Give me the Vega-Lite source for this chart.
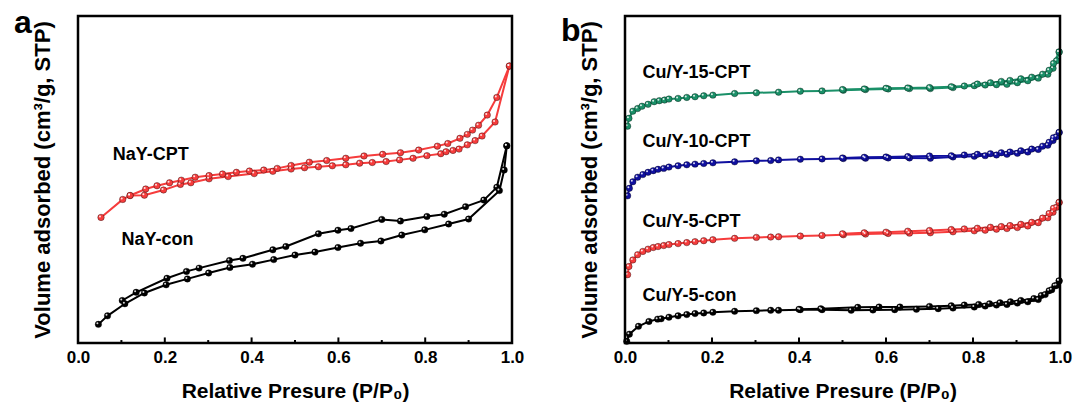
{
  "$schema": "https://vega.github.io/schema/vega-lite/v6.json",
  "padding": {"left": 13, "top": 7, "right": 5, "bottom": 5},
  "bounds": "flush",
  "spacing": 113,
  "config": {
    "font": "Liberation Sans",
    "view": {"stroke": null},
    "axis": {"labelColor": "black", "titleColor": "black", "labelFontWeight": "bold", "titleFontWeight": "bold", "domain": false, "ticks": false, "grid": false}
  },
  "datasets": {
    "frame": [{"fx":0,"fy":0,"o":0},{"fx":1,"fy":0,"o":1},{"fx":1,"fy":100,"o":2},{"fx":0,"fy":100,"o":3},{"fx":0,"fy":0,"o":4}],
    "tickseg": [
      {"t":0.0,"ty":0},{"t":0.0,"ty":1.7},{"t":0.1,"ty":0},{"t":0.1,"ty":0.9},{"t":0.2,"ty":0},{"t":0.2,"ty":1.7},{"t":0.3,"ty":0},{"t":0.3,"ty":0.9},{"t":0.4,"ty":0},{"t":0.4,"ty":1.7},{"t":0.5,"ty":0},{"t":0.5,"ty":0.9},{"t":0.6,"ty":0},{"t":0.6,"ty":1.7},{"t":0.7,"ty":0},{"t":0.7,"ty":0.9},{"t":0.8,"ty":0},{"t":0.8,"ty":1.7},{"t":0.9,"ty":0},{"t":0.9,"ty":0.9},{"t":1.0,"ty":0},{"t":1.0,"ty":1.7}
    ],
    "a": [
      {"s":"NaY-CPT","b":"ads","x":0.053,"y":38.4},{"s":"NaY-CPT","b":"ads","x":0.103,"y":43.9},{"s":"NaY-CPT","b":"ads","x":0.120,"y":45.1},{"s":"NaY-CPT","b":"ads","x":0.153,"y":45.2},{"s":"NaY-CPT","b":"ads","x":0.197,"y":46.8},{"s":"NaY-CPT","b":"ads","x":0.236,"y":48.5},{"s":"NaY-CPT","b":"ads","x":0.260,"y":49.0},{"s":"NaY-CPT","b":"ads","x":0.302,"y":50.2},{"s":"NaY-CPT","b":"ads","x":0.346,"y":50.9},{"s":"NaY-CPT","b":"ads","x":0.406,"y":51.8},{"s":"NaY-CPT","b":"ads","x":0.449,"y":52.5},{"s":"NaY-CPT","b":"ads","x":0.491,"y":53.2},{"s":"NaY-CPT","b":"ads","x":0.522,"y":53.6},{"s":"NaY-CPT","b":"ads","x":0.554,"y":53.9},{"s":"NaY-CPT","b":"ads","x":0.586,"y":54.2},{"s":"NaY-CPT","b":"ads","x":0.617,"y":54.5},{"s":"NaY-CPT","b":"ads","x":0.649,"y":55.0},{"s":"NaY-CPT","b":"ads","x":0.678,"y":55.2},{"s":"NaY-CPT","b":"ads","x":0.710,"y":55.5},{"s":"NaY-CPT","b":"ads","x":0.741,"y":56.0},{"s":"NaY-CPT","b":"ads","x":0.772,"y":56.5},{"s":"NaY-CPT","b":"ads","x":0.804,"y":57.3},{"s":"NaY-CPT","b":"ads","x":0.836,"y":57.9},{"s":"NaY-CPT","b":"ads","x":0.848,"y":58.5},{"s":"NaY-CPT","b":"ads","x":0.864,"y":58.9},{"s":"NaY-CPT","b":"ads","x":0.878,"y":59.3},{"s":"NaY-CPT","b":"ads","x":0.897,"y":60.6},{"s":"NaY-CPT","b":"ads","x":0.915,"y":61.9},{"s":"NaY-CPT","b":"ads","x":0.931,"y":63.3},{"s":"NaY-CPT","b":"ads","x":0.961,"y":67.6},{"s":"NaY-CPT","b":"ads","x":0.994,"y":84.7},
      {"s":"NaY-CPT","b":"des","x":0.994,"y":84.7},{"s":"NaY-CPT","b":"des","x":0.965,"y":75.1},{"s":"NaY-CPT","b":"des","x":0.943,"y":69.7},{"s":"NaY-CPT","b":"des","x":0.923,"y":66.6},{"s":"NaY-CPT","b":"des","x":0.909,"y":65.1},{"s":"NaY-CPT","b":"des","x":0.897,"y":63.8},{"s":"NaY-CPT","b":"des","x":0.880,"y":62.6},{"s":"NaY-CPT","b":"des","x":0.852,"y":61.0},{"s":"NaY-CPT","b":"des","x":0.828,"y":60.2},{"s":"NaY-CPT","b":"des","x":0.785,"y":59.0},{"s":"NaY-CPT","b":"des","x":0.743,"y":58.2},{"s":"NaY-CPT","b":"des","x":0.702,"y":57.7},{"s":"NaY-CPT","b":"des","x":0.659,"y":57.2},{"s":"NaY-CPT","b":"des","x":0.617,"y":56.5},{"s":"NaY-CPT","b":"des","x":0.573,"y":55.8},{"s":"NaY-CPT","b":"des","x":0.533,"y":55.3},{"s":"NaY-CPT","b":"des","x":0.491,"y":54.3},{"s":"NaY-CPT","b":"des","x":0.459,"y":53.4},{"s":"NaY-CPT","b":"des","x":0.428,"y":52.9},{"s":"NaY-CPT","b":"des","x":0.395,"y":52.6},{"s":"NaY-CPT","b":"des","x":0.365,"y":52.2},{"s":"NaY-CPT","b":"des","x":0.333,"y":51.7},{"s":"NaY-CPT","b":"des","x":0.302,"y":51.2},{"s":"NaY-CPT","b":"des","x":0.270,"y":50.7},{"s":"NaY-CPT","b":"des","x":0.238,"y":49.8},{"s":"NaY-CPT","b":"des","x":0.211,"y":49.0},{"s":"NaY-CPT","b":"des","x":0.182,"y":48.1},{"s":"NaY-CPT","b":"des","x":0.156,"y":47.1},{"s":"NaY-CPT","b":"des","x":0.120,"y":45.1},
      {"s":"NaY-con","b":"ads","x":0.047,"y":5.7},{"s":"NaY-con","b":"ads","x":0.068,"y":8.3},{"s":"NaY-con","b":"ads","x":0.108,"y":12.0},{"s":"NaY-con","b":"ads","x":0.153,"y":15.3},{"s":"NaY-con","b":"ads","x":0.203,"y":17.8},{"s":"NaY-con","b":"ads","x":0.252,"y":19.6},{"s":"NaY-con","b":"ads","x":0.301,"y":21.4},{"s":"NaY-con","b":"ads","x":0.350,"y":23.1},{"s":"NaY-con","b":"ads","x":0.402,"y":24.1},{"s":"NaY-con","b":"ads","x":0.451,"y":25.5},{"s":"NaY-con","b":"ads","x":0.500,"y":26.9},{"s":"NaY-con","b":"ads","x":0.546,"y":27.8},{"s":"NaY-con","b":"ads","x":0.599,"y":29.2},{"s":"NaY-con","b":"ads","x":0.651,"y":30.5},{"s":"NaY-con","b":"ads","x":0.698,"y":31.2},{"s":"NaY-con","b":"ads","x":0.746,"y":33.0},{"s":"NaY-con","b":"ads","x":0.799,"y":34.6},{"s":"NaY-con","b":"ads","x":0.854,"y":36.4},{"s":"NaY-con","b":"ads","x":0.900,"y":37.9},{"s":"NaY-con","b":"ads","x":0.971,"y":46.6},{"s":"NaY-con","b":"ads","x":0.982,"y":52.9},{"s":"NaY-con","b":"ads","x":0.988,"y":60.3},
      {"s":"NaY-con","b":"des","x":0.988,"y":60.3},{"s":"NaY-con","b":"des","x":0.965,"y":47.6},{"s":"NaY-con","b":"des","x":0.935,"y":43.7},{"s":"NaY-con","b":"des","x":0.893,"y":41.7},{"s":"NaY-con","b":"des","x":0.844,"y":39.4},{"s":"NaY-con","b":"des","x":0.804,"y":38.7},{"s":"NaY-con","b":"des","x":0.743,"y":37.3},{"s":"NaY-con","b":"des","x":0.700,"y":37.8},{"s":"NaY-con","b":"des","x":0.629,"y":35.0},{"s":"NaY-con","b":"des","x":0.599,"y":34.5},{"s":"NaY-con","b":"des","x":0.554,"y":33.4},{"s":"NaY-con","b":"des","x":0.479,"y":29.5},{"s":"NaY-con","b":"des","x":0.449,"y":28.5},{"s":"NaY-con","b":"des","x":0.380,"y":25.9},{"s":"NaY-con","b":"des","x":0.349,"y":25.2},{"s":"NaY-con","b":"des","x":0.279,"y":22.9},{"s":"NaY-con","b":"des","x":0.250,"y":21.9},{"s":"NaY-con","b":"des","x":0.205,"y":19.8},{"s":"NaY-con","b":"des","x":0.134,"y":15.5},{"s":"NaY-con","b":"des","x":0.102,"y":13.0}
    ],
    "b": [
      {"s":"Cu/Y-15-CPT","b":"ads","x":0.006,"y":66.3},{"s":"Cu/Y-15-CPT","b":"ads","x":0.009,"y":68.7},{"s":"Cu/Y-15-CPT","b":"ads","x":0.018,"y":70.9},{"s":"Cu/Y-15-CPT","b":"ads","x":0.029,"y":71.7},{"s":"Cu/Y-15-CPT","b":"ads","x":0.039,"y":72.4},{"s":"Cu/Y-15-CPT","b":"ads","x":0.053,"y":73.0},{"s":"Cu/Y-15-CPT","b":"ads","x":0.067,"y":73.8},{"s":"Cu/Y-15-CPT","b":"ads","x":0.079,"y":74.1},{"s":"Cu/Y-15-CPT","b":"ads","x":0.091,"y":74.3},{"s":"Cu/Y-15-CPT","b":"ads","x":0.101,"y":74.6},{"s":"Cu/Y-15-CPT","b":"ads","x":0.122,"y":74.8},{"s":"Cu/Y-15-CPT","b":"ads","x":0.142,"y":75.1},{"s":"Cu/Y-15-CPT","b":"ads","x":0.161,"y":75.3},{"s":"Cu/Y-15-CPT","b":"ads","x":0.181,"y":75.6},{"s":"Cu/Y-15-CPT","b":"ads","x":0.202,"y":75.8},{"s":"Cu/Y-15-CPT","b":"ads","x":0.252,"y":76.3},{"s":"Cu/Y-15-CPT","b":"ads","x":0.302,"y":76.5},{"s":"Cu/Y-15-CPT","b":"ads","x":0.353,"y":76.7},{"s":"Cu/Y-15-CPT","b":"ads","x":0.403,"y":77.0},{"s":"Cu/Y-15-CPT","b":"ads","x":0.453,"y":77.1},{"s":"Cu/Y-15-CPT","b":"ads","x":0.502,"y":77.3},{"s":"Cu/Y-15-CPT","b":"ads","x":0.553,"y":77.5},{"s":"Cu/Y-15-CPT","b":"ads","x":0.605,"y":77.7},{"s":"Cu/Y-15-CPT","b":"ads","x":0.654,"y":77.8},{"s":"Cu/Y-15-CPT","b":"ads","x":0.702,"y":77.8},{"s":"Cu/Y-15-CPT","b":"ads","x":0.754,"y":78.1},{"s":"Cu/Y-15-CPT","b":"ads","x":0.803,"y":78.7},{"s":"Cu/Y-15-CPT","b":"ads","x":0.828,"y":78.9},{"s":"Cu/Y-15-CPT","b":"ads","x":0.854,"y":79.0},{"s":"Cu/Y-15-CPT","b":"ads","x":0.878,"y":79.1},{"s":"Cu/Y-15-CPT","b":"ads","x":0.902,"y":79.6},{"s":"Cu/Y-15-CPT","b":"ads","x":0.926,"y":80.2},{"s":"Cu/Y-15-CPT","b":"ads","x":0.950,"y":81.0},{"s":"Cu/Y-15-CPT","b":"ads","x":0.972,"y":82.2},{"s":"Cu/Y-15-CPT","b":"ads","x":0.984,"y":84.0},{"s":"Cu/Y-15-CPT","b":"ads","x":0.992,"y":86.3},{"s":"Cu/Y-15-CPT","b":"ads","x":0.998,"y":89.0},
      {"s":"Cu/Y-15-CPT","b":"des","x":0.998,"y":89.0},{"s":"Cu/Y-15-CPT","b":"des","x":0.985,"y":85.5},{"s":"Cu/Y-15-CPT","b":"des","x":0.975,"y":83.4},{"s":"Cu/Y-15-CPT","b":"des","x":0.960,"y":82.2},{"s":"Cu/Y-15-CPT","b":"des","x":0.935,"y":81.3},{"s":"Cu/Y-15-CPT","b":"des","x":0.910,"y":80.8},{"s":"Cu/Y-15-CPT","b":"des","x":0.885,"y":80.3},{"s":"Cu/Y-15-CPT","b":"des","x":0.865,"y":80.0},{"s":"Cu/Y-15-CPT","b":"des","x":0.840,"y":79.6},{"s":"Cu/Y-15-CPT","b":"des","x":0.810,"y":79.2},{"s":"Cu/Y-15-CPT","b":"des","x":0.780,"y":78.6},{"s":"Cu/Y-15-CPT","b":"des","x":0.750,"y":78.4},{"s":"Cu/Y-15-CPT","b":"des","x":0.700,"y":78.1},{"s":"Cu/Y-15-CPT","b":"des","x":0.650,"y":78.0},{"s":"Cu/Y-15-CPT","b":"des","x":0.600,"y":77.9},{"s":"Cu/Y-15-CPT","b":"des","x":0.550,"y":77.7},{"s":"Cu/Y-15-CPT","b":"des","x":0.500,"y":77.5},
      {"s":"Cu/Y-10-CPT","b":"ads","x":0.006,"y":45.0},{"s":"Cu/Y-10-CPT","b":"ads","x":0.010,"y":47.3},{"s":"Cu/Y-10-CPT","b":"ads","x":0.018,"y":49.3},{"s":"Cu/Y-10-CPT","b":"ads","x":0.029,"y":50.7},{"s":"Cu/Y-10-CPT","b":"ads","x":0.041,"y":51.5},{"s":"Cu/Y-10-CPT","b":"ads","x":0.053,"y":52.2},{"s":"Cu/Y-10-CPT","b":"ads","x":0.065,"y":52.7},{"s":"Cu/Y-10-CPT","b":"ads","x":0.076,"y":53.1},{"s":"Cu/Y-10-CPT","b":"ads","x":0.089,"y":53.4},{"s":"Cu/Y-10-CPT","b":"ads","x":0.101,"y":53.8},{"s":"Cu/Y-10-CPT","b":"ads","x":0.122,"y":54.2},{"s":"Cu/Y-10-CPT","b":"ads","x":0.142,"y":54.5},{"s":"Cu/Y-10-CPT","b":"ads","x":0.161,"y":54.7},{"s":"Cu/Y-10-CPT","b":"ads","x":0.181,"y":54.9},{"s":"Cu/Y-10-CPT","b":"ads","x":0.202,"y":55.1},{"s":"Cu/Y-10-CPT","b":"ads","x":0.252,"y":55.4},{"s":"Cu/Y-10-CPT","b":"ads","x":0.302,"y":55.7},{"s":"Cu/Y-10-CPT","b":"ads","x":0.335,"y":55.8},{"s":"Cu/Y-10-CPT","b":"ads","x":0.353,"y":56.0},{"s":"Cu/Y-10-CPT","b":"ads","x":0.403,"y":56.2},{"s":"Cu/Y-10-CPT","b":"ads","x":0.453,"y":56.3},{"s":"Cu/Y-10-CPT","b":"ads","x":0.502,"y":56.4},{"s":"Cu/Y-10-CPT","b":"ads","x":0.553,"y":56.5},{"s":"Cu/Y-10-CPT","b":"ads","x":0.605,"y":56.6},{"s":"Cu/Y-10-CPT","b":"ads","x":0.654,"y":56.6},{"s":"Cu/Y-10-CPT","b":"ads","x":0.702,"y":56.5},{"s":"Cu/Y-10-CPT","b":"ads","x":0.754,"y":56.9},{"s":"Cu/Y-10-CPT","b":"ads","x":0.803,"y":57.1},{"s":"Cu/Y-10-CPT","b":"ads","x":0.828,"y":57.3},{"s":"Cu/Y-10-CPT","b":"ads","x":0.854,"y":57.5},{"s":"Cu/Y-10-CPT","b":"ads","x":0.878,"y":57.7},{"s":"Cu/Y-10-CPT","b":"ads","x":0.902,"y":58.0},{"s":"Cu/Y-10-CPT","b":"ads","x":0.926,"y":58.4},{"s":"Cu/Y-10-CPT","b":"ads","x":0.950,"y":59.2},{"s":"Cu/Y-10-CPT","b":"ads","x":0.972,"y":60.5},{"s":"Cu/Y-10-CPT","b":"ads","x":0.984,"y":61.9},{"s":"Cu/Y-10-CPT","b":"ads","x":0.992,"y":63.1},{"s":"Cu/Y-10-CPT","b":"ads","x":0.998,"y":64.4},
      {"s":"Cu/Y-10-CPT","b":"des","x":0.998,"y":64.4},{"s":"Cu/Y-10-CPT","b":"des","x":0.985,"y":62.8},{"s":"Cu/Y-10-CPT","b":"des","x":0.975,"y":61.4},{"s":"Cu/Y-10-CPT","b":"des","x":0.960,"y":60.2},{"s":"Cu/Y-10-CPT","b":"des","x":0.935,"y":59.3},{"s":"Cu/Y-10-CPT","b":"des","x":0.910,"y":58.8},{"s":"Cu/Y-10-CPT","b":"des","x":0.885,"y":58.4},{"s":"Cu/Y-10-CPT","b":"des","x":0.865,"y":58.2},{"s":"Cu/Y-10-CPT","b":"des","x":0.840,"y":57.9},{"s":"Cu/Y-10-CPT","b":"des","x":0.810,"y":57.7},{"s":"Cu/Y-10-CPT","b":"des","x":0.780,"y":57.5},{"s":"Cu/Y-10-CPT","b":"des","x":0.750,"y":57.3},{"s":"Cu/Y-10-CPT","b":"des","x":0.700,"y":57.2},{"s":"Cu/Y-10-CPT","b":"des","x":0.650,"y":57.0},{"s":"Cu/Y-10-CPT","b":"des","x":0.600,"y":56.9},{"s":"Cu/Y-10-CPT","b":"des","x":0.550,"y":56.8},{"s":"Cu/Y-10-CPT","b":"des","x":0.500,"y":56.6},
      {"s":"Cu/Y-5-CPT","b":"ads","x":0.006,"y":20.9},{"s":"Cu/Y-5-CPT","b":"ads","x":0.009,"y":23.4},{"s":"Cu/Y-5-CPT","b":"ads","x":0.018,"y":25.4},{"s":"Cu/Y-5-CPT","b":"ads","x":0.029,"y":27.0},{"s":"Cu/Y-5-CPT","b":"ads","x":0.041,"y":28.0},{"s":"Cu/Y-5-CPT","b":"ads","x":0.053,"y":28.7},{"s":"Cu/Y-5-CPT","b":"ads","x":0.065,"y":29.2},{"s":"Cu/Y-5-CPT","b":"ads","x":0.076,"y":29.5},{"s":"Cu/Y-5-CPT","b":"ads","x":0.089,"y":29.8},{"s":"Cu/Y-5-CPT","b":"ads","x":0.101,"y":30.1},{"s":"Cu/Y-5-CPT","b":"ads","x":0.122,"y":30.4},{"s":"Cu/Y-5-CPT","b":"ads","x":0.142,"y":30.7},{"s":"Cu/Y-5-CPT","b":"ads","x":0.161,"y":31.0},{"s":"Cu/Y-5-CPT","b":"ads","x":0.181,"y":31.3},{"s":"Cu/Y-5-CPT","b":"ads","x":0.202,"y":31.6},{"s":"Cu/Y-5-CPT","b":"ads","x":0.252,"y":32.0},{"s":"Cu/Y-5-CPT","b":"ads","x":0.302,"y":32.3},{"s":"Cu/Y-5-CPT","b":"ads","x":0.335,"y":32.4},{"s":"Cu/Y-5-CPT","b":"ads","x":0.353,"y":32.5},{"s":"Cu/Y-5-CPT","b":"ads","x":0.403,"y":32.7},{"s":"Cu/Y-5-CPT","b":"ads","x":0.453,"y":32.9},{"s":"Cu/Y-5-CPT","b":"ads","x":0.502,"y":33.1},{"s":"Cu/Y-5-CPT","b":"ads","x":0.553,"y":33.3},{"s":"Cu/Y-5-CPT","b":"ads","x":0.605,"y":33.5},{"s":"Cu/Y-5-CPT","b":"ads","x":0.654,"y":33.6},{"s":"Cu/Y-5-CPT","b":"ads","x":0.702,"y":33.7},{"s":"Cu/Y-5-CPT","b":"ads","x":0.754,"y":34.0},{"s":"Cu/Y-5-CPT","b":"ads","x":0.803,"y":34.3},{"s":"Cu/Y-5-CPT","b":"ads","x":0.828,"y":34.5},{"s":"Cu/Y-5-CPT","b":"ads","x":0.854,"y":34.8},{"s":"Cu/Y-5-CPT","b":"ads","x":0.878,"y":35.0},{"s":"Cu/Y-5-CPT","b":"ads","x":0.902,"y":35.3},{"s":"Cu/Y-5-CPT","b":"ads","x":0.926,"y":35.8},{"s":"Cu/Y-5-CPT","b":"ads","x":0.950,"y":36.8},{"s":"Cu/Y-5-CPT","b":"ads","x":0.972,"y":38.3},{"s":"Cu/Y-5-CPT","b":"ads","x":0.984,"y":40.0},{"s":"Cu/Y-5-CPT","b":"ads","x":0.992,"y":41.5},{"s":"Cu/Y-5-CPT","b":"ads","x":0.998,"y":43.0},
      {"s":"Cu/Y-5-CPT","b":"des","x":0.998,"y":43.0},{"s":"Cu/Y-5-CPT","b":"des","x":0.985,"y":41.2},{"s":"Cu/Y-5-CPT","b":"des","x":0.975,"y":39.6},{"s":"Cu/Y-5-CPT","b":"des","x":0.960,"y":38.2},{"s":"Cu/Y-5-CPT","b":"des","x":0.935,"y":36.9},{"s":"Cu/Y-5-CPT","b":"des","x":0.910,"y":36.3},{"s":"Cu/Y-5-CPT","b":"des","x":0.885,"y":35.9},{"s":"Cu/Y-5-CPT","b":"des","x":0.865,"y":35.6},{"s":"Cu/Y-5-CPT","b":"des","x":0.840,"y":35.4},{"s":"Cu/Y-5-CPT","b":"des","x":0.810,"y":35.1},{"s":"Cu/Y-5-CPT","b":"des","x":0.780,"y":34.9},{"s":"Cu/Y-5-CPT","b":"des","x":0.750,"y":34.7},{"s":"Cu/Y-5-CPT","b":"des","x":0.700,"y":34.4},{"s":"Cu/Y-5-CPT","b":"des","x":0.650,"y":34.2},{"s":"Cu/Y-5-CPT","b":"des","x":0.600,"y":33.9},{"s":"Cu/Y-5-CPT","b":"des","x":0.550,"y":33.7},{"s":"Cu/Y-5-CPT","b":"des","x":0.500,"y":33.4},
      {"s":"Cu/Y-5-con","b":"ads","x":0.004,"y":0.5},{"s":"Cu/Y-5-con","b":"ads","x":0.010,"y":2.7},{"s":"Cu/Y-5-con","b":"ads","x":0.031,"y":5.1},{"s":"Cu/Y-5-con","b":"ads","x":0.055,"y":6.6},{"s":"Cu/Y-5-con","b":"ads","x":0.075,"y":7.3},{"s":"Cu/Y-5-con","b":"ads","x":0.083,"y":7.4},{"s":"Cu/Y-5-con","b":"ads","x":0.101,"y":7.9},{"s":"Cu/Y-5-con","b":"ads","x":0.122,"y":8.3},{"s":"Cu/Y-5-con","b":"ads","x":0.142,"y":8.7},{"s":"Cu/Y-5-con","b":"ads","x":0.161,"y":9.0},{"s":"Cu/Y-5-con","b":"ads","x":0.181,"y":9.2},{"s":"Cu/Y-5-con","b":"ads","x":0.202,"y":9.4},{"s":"Cu/Y-5-con","b":"ads","x":0.252,"y":9.7},{"s":"Cu/Y-5-con","b":"ads","x":0.302,"y":9.9},{"s":"Cu/Y-5-con","b":"ads","x":0.335,"y":10.0},{"s":"Cu/Y-5-con","b":"ads","x":0.353,"y":10.0},{"s":"Cu/Y-5-con","b":"ads","x":0.403,"y":10.2},{"s":"Cu/Y-5-con","b":"ads","x":0.453,"y":10.2},{"s":"Cu/Y-5-con","b":"ads","x":0.520,"y":10.0},{"s":"Cu/Y-5-con","b":"ads","x":0.570,"y":10.1},{"s":"Cu/Y-5-con","b":"ads","x":0.620,"y":10.2},{"s":"Cu/Y-5-con","b":"ads","x":0.670,"y":10.3},{"s":"Cu/Y-5-con","b":"ads","x":0.720,"y":10.5},{"s":"Cu/Y-5-con","b":"ads","x":0.754,"y":10.7},{"s":"Cu/Y-5-con","b":"ads","x":0.803,"y":11.0},{"s":"Cu/Y-5-con","b":"ads","x":0.828,"y":11.3},{"s":"Cu/Y-5-con","b":"ads","x":0.854,"y":11.6},{"s":"Cu/Y-5-con","b":"ads","x":0.878,"y":11.8},{"s":"Cu/Y-5-con","b":"ads","x":0.902,"y":12.2},{"s":"Cu/Y-5-con","b":"ads","x":0.926,"y":12.6},{"s":"Cu/Y-5-con","b":"ads","x":0.950,"y":13.3},{"s":"Cu/Y-5-con","b":"ads","x":0.966,"y":14.8},{"s":"Cu/Y-5-con","b":"ads","x":0.981,"y":16.3},{"s":"Cu/Y-5-con","b":"ads","x":0.992,"y":17.6},{"s":"Cu/Y-5-con","b":"ads","x":0.998,"y":19.0},
      {"s":"Cu/Y-5-con","b":"des","x":0.998,"y":19.0},{"s":"Cu/Y-5-con","b":"des","x":0.988,"y":17.5},{"s":"Cu/Y-5-con","b":"des","x":0.975,"y":16.0},{"s":"Cu/Y-5-con","b":"des","x":0.957,"y":14.5},{"s":"Cu/Y-5-con","b":"des","x":0.940,"y":13.6},{"s":"Cu/Y-5-con","b":"des","x":0.910,"y":13.0},{"s":"Cu/Y-5-con","b":"des","x":0.886,"y":12.6},{"s":"Cu/Y-5-con","b":"des","x":0.862,"y":12.3},{"s":"Cu/Y-5-con","b":"des","x":0.838,"y":12.0},{"s":"Cu/Y-5-con","b":"des","x":0.813,"y":11.8},{"s":"Cu/Y-5-con","b":"des","x":0.780,"y":11.6},{"s":"Cu/Y-5-con","b":"des","x":0.750,"y":11.4},{"s":"Cu/Y-5-con","b":"des","x":0.700,"y":11.2},{"s":"Cu/Y-5-con","b":"des","x":0.632,"y":11.0},{"s":"Cu/Y-5-con","b":"des","x":0.584,"y":11.0},{"s":"Cu/Y-5-con","b":"des","x":0.535,"y":10.9},{"s":"Cu/Y-5-con","b":"des","x":0.450,"y":10.5},{"s":"Cu/Y-5-con","b":"des","x":0.400,"y":10.3}
    ]
  },
  "hconcat": [
    {
      "width": 434,
      "height": 327,
      "layer": [
        {
          "data": {"name": "a"},
          "mark": {"type": "line", "strokeWidth": 2},
          "encoding": {
            "x": {"field": "x", "type": "quantitative", "scale": {"domain": [0, 1], "nice": false},
              "axis": {"values": [0, 0.2, 0.4, 0.6, 0.8, 1.0], "format": ".1f", "labelFlush": false, "labelFontSize": 17, "labelPadding": 6, "title": "Relative Presure (P/P₀)", "titleFontSize": 21, "titlePadding": 15}},
            "y": {"field": "y", "type": "quantitative", "scale": {"domain": [0, 100], "nice": false},
              "axis": {"title": "Volume adsorbed (cm³/g, STP)", "labels": false, "titleFontSize": 22, "titlePadding": 24}},
            "color": {"field": "s", "type": "nominal", "scale": {"domain": ["NaY-CPT", "NaY-con", "Cu/Y-15-CPT", "Cu/Y-10-CPT", "Cu/Y-5-CPT", "Cu/Y-5-con"], "range": ["#f63c3c", "#000000", "#1a9068", "#1010a0", "#f63c3c", "#000000"]}, "legend": null},
            "detail": {"field": "b"},
            "order": {"field": "x", "type": "quantitative"}
          }
        },
        {
          "data": {"name": "a"},
          "mark": {"type": "point", "filled": true, "size": 42, "opacity": 1, "stroke": "#000000", "strokeOpacity": 0.35, "strokeWidth": 1},
          "encoding": {
            "x": {"field": "x", "type": "quantitative"},
            "y": {"field": "y", "type": "quantitative"},
            "fill": {"field": "s", "type": "nominal", "scale": {"domain": ["NaY-CPT", "NaY-con", "Cu/Y-15-CPT", "Cu/Y-10-CPT", "Cu/Y-5-CPT", "Cu/Y-5-con"], "range": ["#f63c3c", "#000000", "#1a9068", "#1010a0", "#f63c3c", "#000000"]}, "legend": null}
          }
        },
        {
          "data": {"name": "a"},
          "mark": {"type": "point", "filled": true, "size": 4, "color": "white", "opacity": 0.85, "xOffset": -1, "yOffset": -1},
          "encoding": {
            "x": {"field": "x", "type": "quantitative"},
            "y": {"field": "y", "type": "quantitative"}
          }
        },
        {
          "data": {"values": [{}]},
          "mark": {"type": "text", "text": "NaY-CPT", "align": "left", "baseline": "middle", "fontSize": 18, "fontWeight": "bold", "color": "black"},
          "encoding": {"x": {"datum": 0.08, "type": "quantitative"}, "y": {"datum": 57.5, "type": "quantitative"}}
        },
        {
          "data": {"values": [{}]},
          "mark": {"type": "text", "text": "NaY-con", "align": "left", "baseline": "middle", "fontSize": 18, "fontWeight": "bold", "color": "black"},
          "encoding": {"x": {"datum": 0.1, "type": "quantitative"}, "y": {"datum": 31.5, "type": "quantitative"}}
        },
        {
          "data": {"values": [{}]},
          "mark": {"type": "text", "text": "a", "align": "left", "baseline": "alphabetic", "fontSize": 32, "fontWeight": "bold", "color": "black"},
          "encoding": {"x": {"datum": -0.1475, "type": "quantitative"}, "y": {"datum": 94.8, "type": "quantitative"}}
        },
        {
          "data": {"name": "tickseg"},
          "mark": {"type": "line", "strokeWidth": 2, "color": "black", "strokeCap": "butt"},
          "encoding": {"x": {"field": "t", "type": "quantitative"}, "y": {"field": "ty", "type": "quantitative"}, "detail": {"field": "t"}}
        },
        {
          "data": {"name": "frame"},
          "mark": {"type": "line", "strokeWidth": 2.5, "color": "black", "strokeCap": "square", "strokeJoin": "miter"},
          "encoding": {"x": {"field": "fx", "type": "quantitative"}, "y": {"field": "fy", "type": "quantitative"}, "order": {"field": "o", "type": "quantitative"}}
        }
      ]
    },
    {
      "width": 435,
      "height": 327,
      "layer": [
        {
          "data": {"name": "b"},
          "mark": {"type": "line", "strokeWidth": 2},
          "encoding": {
            "x": {"field": "x", "type": "quantitative", "scale": {"domain": [0, 1], "nice": false},
              "axis": {"values": [0, 0.2, 0.4, 0.6, 0.8, 1.0], "format": ".1f", "labelFlush": false, "labelFontSize": 17, "labelPadding": 6, "title": "Relative Presure (P/P₀)", "titleFontSize": 21, "titlePadding": 15}},
            "y": {"field": "y", "type": "quantitative", "scale": {"domain": [0, 100], "nice": false},
              "axis": {"title": "Volume adsorbed (cm³/g, STP)", "labels": false, "titleFontSize": 22, "titlePadding": 24}},
            "color": {"field": "s", "type": "nominal", "scale": {"domain": ["NaY-CPT", "NaY-con", "Cu/Y-15-CPT", "Cu/Y-10-CPT", "Cu/Y-5-CPT", "Cu/Y-5-con"], "range": ["#f63c3c", "#000000", "#1a9068", "#1010a0", "#f63c3c", "#000000"]}, "legend": null},
            "detail": {"field": "b"},
            "order": {"field": "x", "type": "quantitative"}
          }
        },
        {
          "data": {"name": "b"},
          "mark": {"type": "point", "filled": true, "size": 42, "opacity": 1, "stroke": "#000000", "strokeOpacity": 0.35, "strokeWidth": 1},
          "encoding": {
            "x": {"field": "x", "type": "quantitative"},
            "y": {"field": "y", "type": "quantitative"},
            "fill": {"field": "s", "type": "nominal", "scale": {"domain": ["NaY-CPT", "NaY-con", "Cu/Y-15-CPT", "Cu/Y-10-CPT", "Cu/Y-5-CPT", "Cu/Y-5-con"], "range": ["#f63c3c", "#000000", "#1a9068", "#1010a0", "#f63c3c", "#000000"]}, "legend": null}
          }
        },
        {
          "data": {"name": "b"},
          "mark": {"type": "point", "filled": true, "size": 4, "color": "white", "opacity": 0.85, "xOffset": -1, "yOffset": -1},
          "encoding": {
            "x": {"field": "x", "type": "quantitative"},
            "y": {"field": "y", "type": "quantitative"}
          }
        },
        {
          "data": {"values": [{}]},
          "mark": {"type": "text", "text": "Cu/Y-15-CPT", "align": "left", "baseline": "middle", "fontSize": 18, "fontWeight": "bold", "color": "black"},
          "encoding": {"x": {"datum": 0.04, "type": "quantitative"}, "y": {"datum": 82.6, "type": "quantitative"}}
        },
        {
          "data": {"values": [{}]},
          "mark": {"type": "text", "text": "Cu/Y-10-CPT", "align": "left", "baseline": "middle", "fontSize": 18, "fontWeight": "bold", "color": "black"},
          "encoding": {"x": {"datum": 0.04, "type": "quantitative"}, "y": {"datum": 61.5, "type": "quantitative"}}
        },
        {
          "data": {"values": [{}]},
          "mark": {"type": "text", "text": "Cu/Y-5-CPT", "align": "left", "baseline": "middle", "fontSize": 18, "fontWeight": "bold", "color": "black"},
          "encoding": {"x": {"datum": 0.04, "type": "quantitative"}, "y": {"datum": 37.0, "type": "quantitative"}}
        },
        {
          "data": {"values": [{}]},
          "mark": {"type": "text", "text": "Cu/Y-5-con", "align": "left", "baseline": "middle", "fontSize": 18, "fontWeight": "bold", "color": "black"},
          "encoding": {"x": {"datum": 0.04, "type": "quantitative"}, "y": {"datum": 14.4, "type": "quantitative"}}
        },
        {
          "data": {"values": [{}]},
          "mark": {"type": "text", "text": "b", "align": "left", "baseline": "alphabetic", "fontSize": 32, "fontWeight": "bold", "color": "black"},
          "encoding": {"x": {"datum": -0.147, "type": "quantitative"}, "y": {"datum": 92.4, "type": "quantitative"}}
        },
        {
          "data": {"name": "tickseg"},
          "mark": {"type": "line", "strokeWidth": 2, "color": "black", "strokeCap": "butt"},
          "encoding": {"x": {"field": "t", "type": "quantitative"}, "y": {"field": "ty", "type": "quantitative"}, "detail": {"field": "t"}}
        },
        {
          "data": {"name": "frame"},
          "mark": {"type": "line", "strokeWidth": 2.5, "color": "black", "strokeCap": "square", "strokeJoin": "miter"},
          "encoding": {"x": {"field": "fx", "type": "quantitative"}, "y": {"field": "fy", "type": "quantitative"}, "order": {"field": "o", "type": "quantitative"}}
        }
      ]
    }
  ]
}
